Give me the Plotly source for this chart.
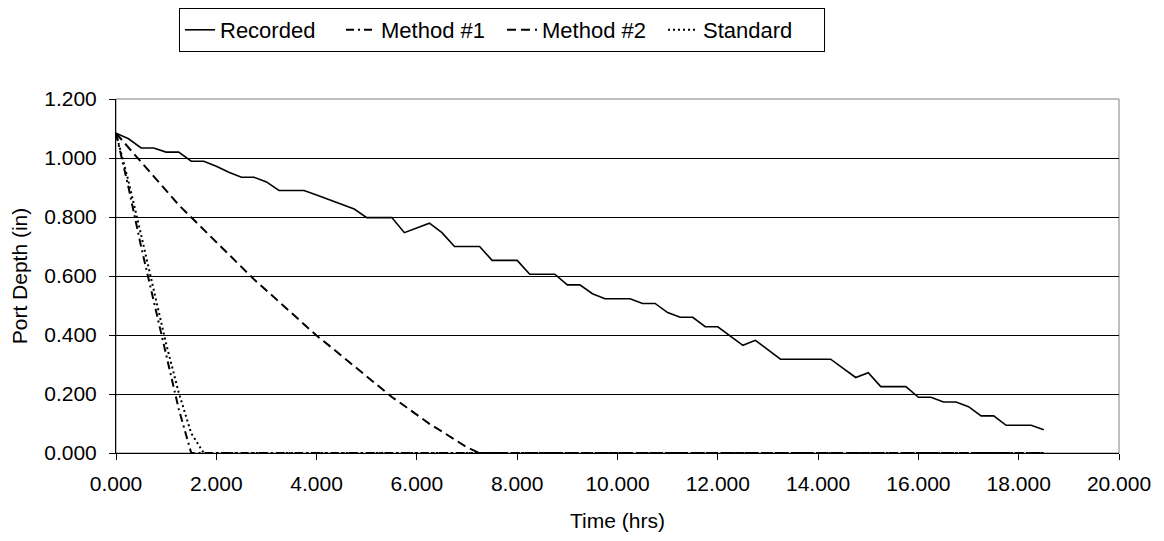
import plotly.graph_objects as go

# time grid (hrs)
time_hrs = [i * 0.25 for i in range(75)]  # 0 .. 18.5

recorded = [1.084, 1.065, 1.034, 1.034, 1.020, 1.020, 0.989, 0.989, 0.972, 0.952,
            0.935, 0.935, 0.919, 0.890, 0.890, 0.890, 0.875, 0.859, 0.843, 0.827,
            0.798, 0.798, 0.798, 0.747, 0.763, 0.779, 0.747, 0.700, 0.700, 0.700,
            0.653, 0.653, 0.653, 0.606, 0.606, 0.606, 0.570, 0.570, 0.540, 0.523,
            0.523, 0.523, 0.507, 0.507, 0.476, 0.460, 0.460, 0.428, 0.428, 0.398,
            0.365, 0.382, 0.350, 0.318, 0.318, 0.318, 0.318, 0.318, 0.287, 0.256,
            0.272, 0.225, 0.225, 0.225, 0.189, 0.189, 0.173, 0.173, 0.157, 0.126,
            0.126, 0.094, 0.094, 0.094, 0.079]

method1_head = [1.084, 0.900, 0.700, 0.520, 0.340, 0.150, 0.000]
method2_head = [1.084, 1.035, 0.987, 0.938, 0.890, 0.841, 0.799, 0.757, 0.715, 0.673,
                0.631, 0.589, 0.551, 0.512, 0.474, 0.436, 0.398, 0.364, 0.329, 0.294,
                0.259, 0.224, 0.190, 0.160, 0.129, 0.099, 0.073, 0.046, 0.019, 0.000]
standard_head = [1.084, 0.920, 0.740, 0.550, 0.370, 0.205, 0.067, 0.000]

method1 = method1_head + [0.0] * (len(time_hrs) - len(method1_head))
method2 = method2_head + [0.0] * (len(time_hrs) - len(method2_head))
standard = standard_head + [0.0] * (len(time_hrs) - len(standard_head))

x_ticks = [0, 2, 4, 6, 8, 10, 12, 14, 16, 18, 20]
y_ticks = [0, 0.2, 0.4, 0.6, 0.8, 1.0, 1.2]

FONT = "Liberation Sans, Arial, sans-serif"

fig = go.Figure()
fig.add_trace(go.Scatter(x=time_hrs, y=recorded, mode="lines", name="Recorded",
                         line=dict(color="black", width=1.6)))
fig.add_trace(go.Scatter(x=time_hrs, y=method1, mode="lines", name="Method #1",
                         line=dict(color="black", width=2, dash="8px,4px,2px,4px")))
fig.add_trace(go.Scatter(x=time_hrs, y=method2, mode="lines", name="Method #2",
                         line=dict(color="black", width=2, dash="9px,5px")))
fig.add_trace(go.Scatter(x=time_hrs, y=standard, mode="lines", name="Standard",
                         line=dict(color="black", width=2, dash="2px,3px")))

fig.update_layout(
    width=1164, height=541,
    margin=dict(l=108, r=53, t=91, b=96),
    paper_bgcolor="white", plot_bgcolor="white",
    font=dict(family=FONT, size=21, color="black"),
    showlegend=True,
    legend=dict(orientation="h", xref="container", yref="container",
                x=0.4244, xanchor="center", y=1.0, yanchor="top",
                bordercolor="black", borderwidth=1, font=dict(size=22),
                itemwidth=30, tracegroupgap=0, bgcolor="white",
                entrywidth=116, entrywidthmode="pixels"),
    xaxis=dict(range=[0, 20], tickvals=x_ticks, tickformat=".3f", automargin=False,
               showgrid=False, zeroline=False, showline=True, linecolor="black",
               linewidth=1, ticks="outside", ticklen=6, tickcolor="black",
               ticklabelstandoff=6,
               title=dict(text="Time (hrs)", font=dict(size=21), standoff=19)),
    yaxis=dict(range=[0, 1.2], tickvals=y_ticks, tickformat=".3f", automargin=False,
               showgrid=True, gridcolor="black", gridwidth=1, zeroline=False,
               showline=True, linecolor="black", linewidth=1,
               ticks="outside", ticklen=6, tickcolor="black",
               ticklabelstandoff=8,
               title=dict(text="Port Depth (in)", font=dict(size=21), standoff=16)),
)
fig.add_shape(type="rect", xref="x domain", yref="y domain", x0=0, x1=1, y0=0, y1=1,
              line=dict(color="#808080", width=1), layer="below")

fig.write_html("out.html")
